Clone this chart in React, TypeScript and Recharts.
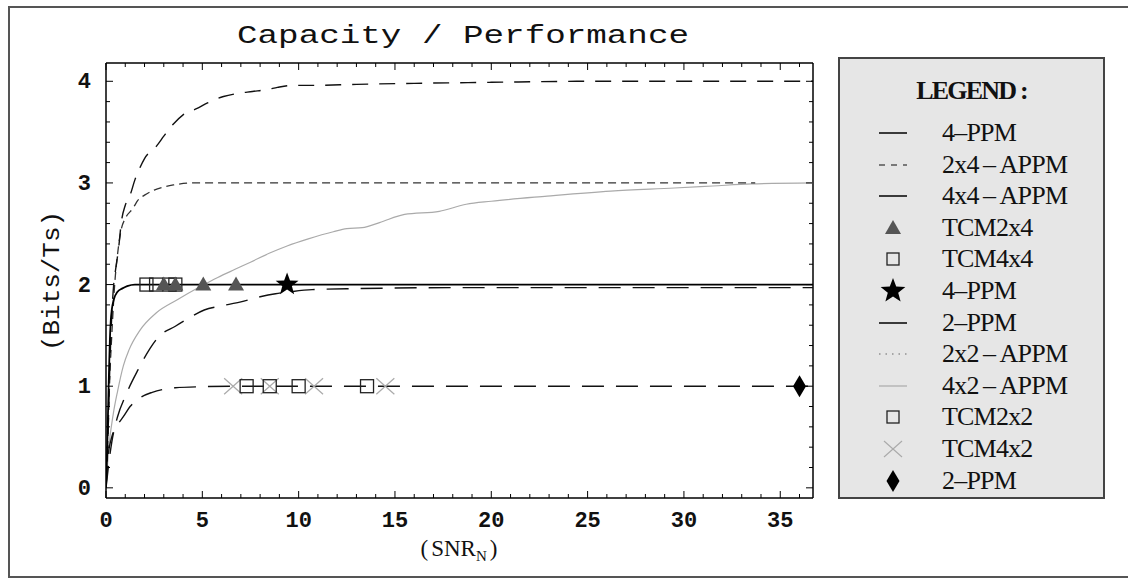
import React from 'react'
import { ComposedChart, Line, Scatter, XAxis, YAxis, ReferenceLine } from 'recharts'

const W = 1128
const H = 579
const PLOT = { left: 106, top: 63, right: 813, bottom: 498 }
const Y_AXIS_W = 60
const X_AXIS_H = 40

const X_MAX = 36.7
const Y_MIN = -0.1
const Y_MAX = 4.18

// tick values (major every 5 / every 1, minor in between)
const xTicks = [0, 1, 2, 3, 4, 5, 6, 7, 8, 9, 10, 11, 12, 13, 14, 15, 16, 17, 18, 19, 20, 21, 22, 23, 24, 25, 26, 27, 28, 29, 30, 31, 32, 33, 34, 35, 36]
const yTicks = [0, 0.2, 0.4, 0.6, 0.8, 1, 1.2, 1.4, 1.6, 1.8, 2, 2.2, 2.4, 2.6, 2.8, 3, 3.2, 3.4, 3.6, 3.8, 4]

// capacity curves, SNR_N vs Bits/Ts
const ppm4X = [0, 0.05, 0.1, 0.15, 0.2, 0.25, 0.3, 0.4, 0.6, 0.83, 1.1, 1.5, 36.7]
const ppm4Y = [0, 0.3, 0.7, 1.1, 1.45, 1.65, 1.75, 1.85, 1.93, 1.96, 1.985, 2.0, 2.0]

const appm2x4X = [0, 0.1, 0.2, 0.3, 0.45, 0.6, 0.8, 1.0, 1.4, 1.66, 2.0, 2.5, 3.0, 3.5, 4.5, 33.7]
const appm2x4Y = [0, 0.5, 1.1, 1.5, 2.0, 2.3, 2.55, 2.65, 2.75, 2.83, 2.88, 2.93, 2.96, 2.98, 3.0, 3.0]

const appm4x4X = [0, 0.1, 0.2, 0.3, 0.4, 0.5, 0.65, 0.8, 1.0, 1.25, 1.5, 1.76, 2.0, 2.65, 3.0, 3.5, 4.0, 4.7, 5.3, 6.1, 6.8, 7.6, 8.4, 8.9, 9.7, 10.7, 13, 16, 20, 25, 36.7]
const appm4x4Y = [0, 0.5, 1.2, 1.7, 2.0, 2.15, 2.35, 2.62, 2.78, 2.88, 3.03, 3.15, 3.24, 3.37, 3.46, 3.58, 3.67, 3.73, 3.79, 3.85, 3.88, 3.9, 3.92, 3.94, 3.96, 3.96, 3.97, 3.98, 3.99, 4.0, 4.0]

const ppm2X = [0, 0.1, 0.3, 0.6, 0.9, 1.25, 1.8, 2.4, 3.0, 3.6, 5, 7, 36.7]
const ppm2Y = [0, 0.3, 0.5, 0.62, 0.7, 0.8, 0.89, 0.94, 0.97, 0.985, 0.995, 1.0, 1.0]

const appm2x2X = [0, 0.15, 0.3, 0.6, 1.0, 1.66, 2.28, 2.7, 3.6, 4.3, 5.1, 6, 7, 8, 8.8, 9.6, 10.7, 13, 18, 36.7]
const appm2x2Y = [0, 0.25, 0.45, 0.7, 0.9, 1.16, 1.37, 1.48, 1.59, 1.67, 1.75, 1.79, 1.83, 1.88, 1.91, 1.93, 1.95, 1.96, 1.97, 1.97]

const appm4x2X = [0, 0.15, 0.38, 0.6, 0.9, 1.2, 1.76, 2.6, 3.7, 4.9, 5.8, 6.7, 7.5, 8.5, 9.4, 10.5, 11.8, 12.5, 13.3, 14.2, 15.5, 17.3, 18.7, 20, 22.9, 26.2, 29.5, 31.5, 33.5, 36.7]
const appm4x2Y = [0, 0.4, 0.73, 0.95, 1.2, 1.36, 1.55, 1.72, 1.85, 1.98, 2.07, 2.15, 2.22, 2.31, 2.38, 2.45, 2.52, 2.55, 2.56, 2.61, 2.69, 2.72, 2.79, 2.82, 2.87, 2.92, 2.95, 2.97, 2.99, 3.0]

// simulated points
const tcm2x4X = [3.0, 3.6, 5.05, 6.75]
const tcm4x4X = [2.1, 2.6, 3.3, 3.6]
const ppm4SimX = [9.4]
const tcm2x2X = [7.3, 8.5, 10.0, 13.55]
const tcm4x2X = [6.6, 8.5, 10.8, 14.5]
const ppm2SimX = [36.0]

const legendLabels = ['4–PPM', '2x4\u2009–\u2009APPM', '4x4\u2009–\u2009APPM', 'TCM2x4', 'TCM4x4', '4–PPM', '2–PPM', '2x2\u2009–\u2009APPM', '4x2\u2009–\u2009APPM', 'TCM2x2', 'TCM4x2', '2–PPM']

const zip = (xs: number[], ys: number[]) => xs.map((x, i) => ({ x, y: ys[i] }))
const at = (xs: number[], y: number) => xs.map(x => ({ x, y }))

const tickFont = { fontFamily: '"Liberation Mono", monospace', fontWeight: 700, fontSize: 22, fill: '#111' }

const XTick = ({ x, y, payload }: any) => {
  const v = payload.value
  const major = v % 5 === 0
  const len = major ? 7 : 4
  return (
    <g>
      <line x1={x} x2={x} y1={y} y2={y - len} stroke="#000" />
      <line x1={x} x2={x} y1={PLOT.top} y2={PLOT.top + len} stroke="#000" />
      {major && <text x={x} y={y + 29} textAnchor="middle" {...tickFont}>{v}</text>}
    </g>
  )
}

const YTick = ({ x, y, payload }: any) => {
  const v = payload.value
  const major = Math.abs(v - Math.round(v)) < 1e-6
  const len = major ? 7 : 4
  return (
    <g>
      <line x1={x} x2={x + len} y1={y} y2={y} stroke="#000" />
      <line x1={PLOT.right} x2={PLOT.right - len} y1={y} y2={y} stroke="#000" />
      {major && <text x={x - 15} y={y + 7} textAnchor="end" {...tickFont}>{Math.round(v)}</text>}
    </g>
  )
}

const starPath = (cx: number, cy: number, R: number, r: number) => {
  const pts: string[] = []
  for (let i = 0; i < 10; i++) {
    const a = -Math.PI / 2 + (i * Math.PI) / 5
    const rad = i % 2 === 0 ? R : r
    pts.push(`${cx + rad * Math.cos(a)},${cy + rad * Math.sin(a)}`)
  }
  return pts.join(' ')
}

const Square = ({ cx, cy, s = 13 }: any) => (
  <rect x={cx - s / 2} y={cy - s / 2} width={s} height={s} fill="none" stroke="#222" strokeWidth={1.3} />
)
const Triangle = ({ cx, cy }: any) => (
  <polygon points={`${cx},${cy - 8} ${cx - 8},${cy + 6} ${cx + 8},${cy + 6}`} fill="#555" />
)
const Star = ({ cx, cy, R = 12 }: any) => <polygon points={starPath(cx, cy, R, R * 0.42)} fill="#000" />
const Cross = ({ cx, cy }: any) => (
  <g stroke="#aaa" strokeWidth={1.2}>
    <line x1={cx - 9} y1={cy - 8} x2={cx + 9} y2={cy + 8} />
    <line x1={cx - 9} y1={cy + 8} x2={cx + 9} y2={cy - 8} />
  </g>
)
const Diamond = ({ cx, cy }: any) => (
  <polygon points={`${cx},${cy - 11} ${cx + 6.5},${cy} ${cx},${cy + 11} ${cx - 6.5},${cy}`} fill="#000" />
)

const LegendIcon = ({ i }: { i: number }) => {
  const c = { cx: 15, cy: 12 }
  const line = (stroke: string, dash?: string, w = 1.5) => (
    <line x1={1} x2={29} y1={12} y2={12} stroke={stroke} strokeWidth={w} strokeDasharray={dash} />
  )
  const icons = [
    line('#000'),
    line('#555', '6 6'),
    line('#000'),
    <Triangle {...c} />,
    <Square {...c} s={12} />,
    <Star {...c} R={13} />,
    line('#000'),
    line('#666', '1.5 5', 1.2),
    line('#aaa', undefined, 1.2),
    <Square {...c} s={12} />,
    <Cross {...c} />,
    <Diamond {...c} />,
  ]
  return <svg width={30} height={24} style={{ overflow: 'visible' }}>{icons[i]}</svg>
}

const Legend = () => (
  <div style={{
    position: 'absolute', left: 838, top: 57, width: 267, height: 442, boxSizing: 'border-box',
    background: '#e6e6e6', border: '2px solid #444', fontFamily: '"Liberation Serif", serif', color: '#111',
  }}>
    <div style={{ position: 'absolute', top: 17, width: '100%', textAlign: 'center', fontWeight: 700, fontSize: 26, letterSpacing: -1.8, lineHeight: '30px' }}>
      LEGEND :
    </div>
    {legendLabels.map((label, i) => (
      <div key={i} style={{ position: 'absolute', top: 74 + i * 31.6 - 15, left: 0, height: 30, width: '100%' }}>
        <div style={{ position: 'absolute', left: 38, top: 3 }}><LegendIcon i={i} /></div>
        <div style={{ position: 'absolute', left: 102, top: 0, fontSize: 26, letterSpacing: -0.8, lineHeight: '30px', whiteSpace: 'nowrap' }}>{label}</div>
      </div>
    ))}
  </div>
)

export default function App() {
  return (
    <div style={{ position: 'absolute', left: 0, top: 0, width: W, height: H, background: '#fff', overflow: 'hidden' }}>
      <div style={{ position: 'absolute', left: 8, top: 6, width: 1150, height: 572, border: '2px solid #555', boxSizing: 'border-box' }} />
      <div style={{ position: 'absolute', left: 0, top: 0 }}>
        <ComposedChart
          width={W}
          height={H}
          margin={{ top: PLOT.top, left: PLOT.left - Y_AXIS_W, right: W - PLOT.right, bottom: H - PLOT.bottom - X_AXIS_H }}
        >
          <XAxis
            xAxisId="b" type="number" dataKey="x" domain={[0, X_MAX]} ticks={xTicks} interval={0}
            allowDataOverflow height={X_AXIS_H} tickSize={0} tickMargin={0} tickLine={false}
            axisLine={{ stroke: '#000', strokeWidth: 1.5 }} tick={XTick}
          />
          <YAxis
            yAxisId="l" type="number" dataKey="y" domain={[Y_MIN, Y_MAX]} ticks={yTicks} interval={0}
            allowDataOverflow width={Y_AXIS_W} tickSize={0} tickMargin={0} tickLine={false}
            axisLine={{ stroke: '#000', strokeWidth: 1.5 }} tick={YTick}
          />
          <ReferenceLine xAxisId="b" yAxisId="l" x={X_MAX} stroke="#000" strokeWidth={1.5} />
          <ReferenceLine xAxisId="b" yAxisId="l" y={Y_MAX} stroke="#000" strokeWidth={1.5} />

          <Line xAxisId="b" yAxisId="l" data={zip(appm4x2X, appm4x2Y)} dataKey="y" type="monotone" stroke="#aaa" strokeWidth={1.2} dot={false} activeDot={false} isAnimationActive={false} />
          <Line xAxisId="b" yAxisId="l" data={zip(appm2x4X, appm2x4Y)} dataKey="y" type="monotone" stroke="#333" strokeWidth={1.3} strokeDasharray="8 5" dot={false} activeDot={false} isAnimationActive={false} />
          <Line xAxisId="b" yAxisId="l" data={zip(appm4x4X, appm4x4Y)} dataKey="y" type="monotone" stroke="#111" strokeWidth={1.4} strokeDasharray="16 11" dot={false} activeDot={false} isAnimationActive={false} />
          <Line xAxisId="b" yAxisId="l" data={zip(appm2x2X, appm2x2Y)} dataKey="y" type="monotone" stroke="#111" strokeWidth={1.4} strokeDasharray="22 12" dot={false} activeDot={false} isAnimationActive={false} />
          <Line xAxisId="b" yAxisId="l" data={zip(ppm2X, ppm2Y)} dataKey="y" type="monotone" stroke="#111" strokeWidth={1.4} strokeDasharray="22 12" dot={false} activeDot={false} isAnimationActive={false} />
          <Line xAxisId="b" yAxisId="l" data={zip(ppm4X, ppm4Y)} dataKey="y" type="monotone" stroke="#000" strokeWidth={1.8} dot={false} activeDot={false} isAnimationActive={false} />

          <Scatter xAxisId="b" yAxisId="l" data={at(tcm4x2X, 1)} shape={Cross} isAnimationActive={false} />
          <Scatter xAxisId="b" yAxisId="l" data={at(tcm2x2X, 1)} shape={Square} isAnimationActive={false} />
          <Scatter xAxisId="b" yAxisId="l" data={at(ppm2SimX, 1)} shape={Diamond} isAnimationActive={false} />
          <Scatter xAxisId="b" yAxisId="l" data={at(tcm4x4X, 2)} shape={Square} isAnimationActive={false} />
          <Scatter xAxisId="b" yAxisId="l" data={at(tcm2x4X, 2)} shape={Triangle} isAnimationActive={false} />
          <Scatter xAxisId="b" yAxisId="l" data={at(ppm4SimX, 2)} shape={Star} isAnimationActive={false} />
        </ComposedChart>
      </div>
      <svg width={W} height={H} style={{ position: 'absolute', left: 0, top: 0, pointerEvents: 'none' }}>
        <text x={463} y={43} textAnchor="middle" fontFamily='"Liberation Mono", monospace' fontSize={26} fill="#111" textLength={452} lengthAdjust="spacingAndGlyphs">
          Capacity / Performance
        </text>
        <text x={52} y={281} transform="rotate(-90 52 281)" textAnchor="middle" dominantBaseline="central" fontFamily='"Liberation Mono", monospace' fontSize={24} fill="#111" textLength={140} lengthAdjust="spacingAndGlyphs">
          (Bits/Ts)
        </text>
        <text x={459} y={556} textAnchor="middle" fontFamily='"Liberation Serif", serif' fontSize={23} fill="#111">
          (<tspan dx={3}>SNR</tspan><tspan fontSize={15} dy={5}>N</tspan><tspan dy={-5} dx={3}>)</tspan>
        </text>
      </svg>
      <Legend />
    </div>
  )
}
